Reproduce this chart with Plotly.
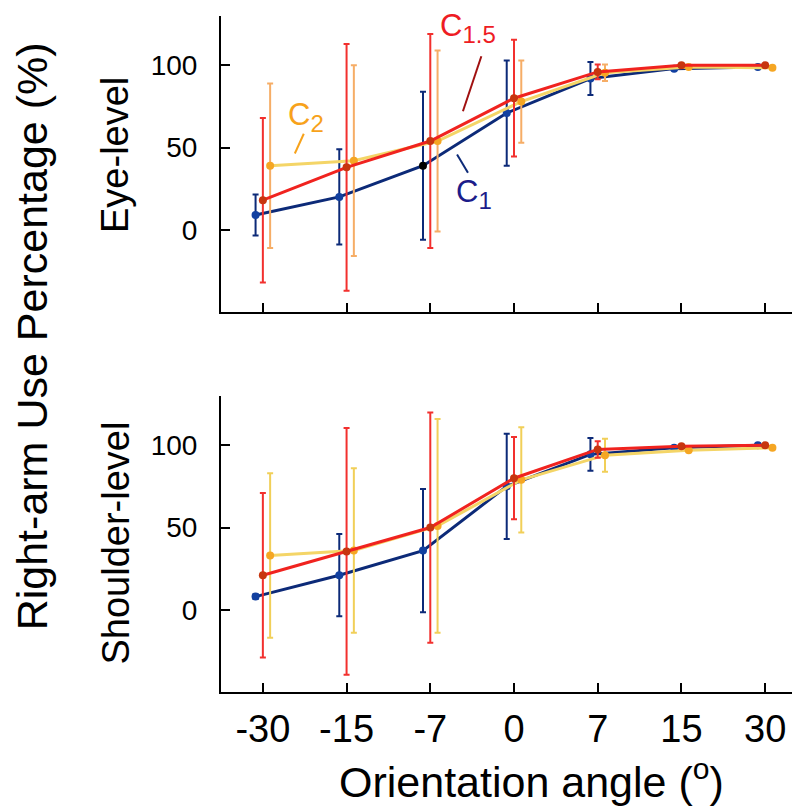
import plotly.graph_objects as go

# ---------------- data ----------------
angles = ["-30", "-15", "-7", "0", "7", "15", "30"]
series = ["C1", "C1.5", "C2"]

# Eye-level
eye_c1 = [9, 20, 39, 71, 92, 98, 99]
eye_c1_err = [12.5, 29, 45, 32, 10, 0, 0]
eye_c15 = [18, 38, 54, 80, 96, 100, 100]
eye_c15_err = [50, 75, 65, 35.5, 4.5, 0, 0]
eye_c2 = [39, 42, 54, 78, 95.5, 99, 98.5]
eye_c2_err = [50, 58, 55, 25, 5, 0, 0]

# Shoulder-level
sh_c1 = [8, 21, 36, 75, 94.5, 98.5, 100]
sh_c1_err = [1.5, 25, 37.5, 32, 10, 0, 0]
sh_c15 = [21, 35.5, 50, 80, 97.5, 99.5, 100]
sh_c15_err = [50, 75, 70, 25, 5, 0, 0]
sh_c2 = [33, 36, 51, 79, 94, 97, 98.5]
sh_c2_err = [50, 50, 65, 32, 10, 0, 0]

# ---------------- style ----------------
FONT = "Arial, Liberation Sans, sans-serif"
NAVY = "#0c2a78"
RED = "#f0231f"
YEL_LINE = "#f4d567"

styles = {
    "C1": dict(line=NAVY, marker="#1240a0", err_top=NAVY, err_bot=NAVY, dx=-0.087),
    "C1.5": dict(line=RED, marker="#c7350f", err_top="#f2302e", err_bot="#f2302e", dx=0.0),
    "C2": dict(line=YEL_LINE, marker="#f5a623", err_top="#f6ad66", err_bot="#f1cf58", dx=0.087),
}

fig = go.Figure()
idx = list(range(len(angles)))

panels = [
    ("x", "y", {"C1": (eye_c1, eye_c1_err), "C1.5": (eye_c15, eye_c15_err), "C2": (eye_c2, eye_c2_err)}, "err_top"),
    ("x2", "y2", {"C1": (sh_c1, sh_c1_err), "C1.5": (sh_c15, sh_c15_err), "C2": (sh_c2, sh_c2_err)}, "err_bot"),
]

for xa, ya, data, ekey in panels:
    for name in ["C1", "C2", "C1.5"]:
        vals, errs = data[name]
        st = styles[name]
        mcol = st["marker"]
        if name == "C1" and xa == "x":
            mcol = [st["marker"]] * len(idx)
            mcol[2] = "black"
        fig.add_trace(go.Scatter(
            x=[i + st["dx"] for i in idx], y=vals,
            xaxis=xa, yaxis=ya, mode="lines+markers",
            line=dict(color=st["line"], width=3),
            marker=dict(color=mcol, size=8),
            error_y=dict(type="data", array=errs, visible=True,
                         color=st[ekey], thickness=2, width=3),
            showlegend=False, name=name,
        ))

axis_common = dict(
    showline=True, linecolor="black", linewidth=2, ticks="inside",
    ticklen=9, tickwidth=1.5, tickcolor="black", showgrid=False, zeroline=False,
    automargin=False,
)

fig.update_layout(
    width=800, height=806,
    margin=dict(l=213, r=1, t=8, b=122),
    plot_bgcolor="white", paper_bgcolor="white",
    font=dict(family=FONT, color="black"),
    xaxis=dict(axis_common, domain=[0, 1], range=[-0.5, 6.5], tickvals=idx,
               showticklabels=False, anchor="y"),
    yaxis=dict(axis_common, domain=[0.5621, 1], range=[-50, 130], tickvals=[0, 50, 100],
               tickfont=dict(size=28), ticklabelstandoff=16, anchor="x"),
    xaxis2=dict(axis_common, domain=[0, 1], range=[-0.5, 6.5], tickvals=idx,
                ticktext=angles, tickfont=dict(size=38), ticklabelstandoff=2, anchor="y2"),
    yaxis2=dict(axis_common, domain=[0, 0.4379], range=[-50, 130], tickvals=[0, 50, 100],
                tickfont=dict(size=28), ticklabelstandoff=16, anchor="x2"),
)

# titles
fig.add_annotation(text="Eye-level", xref="paper", yref="paper", x=-0.18, y=0.7937,
                   textangle=-90, showarrow=False, font=dict(size=38),
                   xanchor="center", yanchor="middle")
fig.add_annotation(text="Shoulder-level", xref="paper", yref="paper", x=-0.18, y=0.2204,
                   textangle=-90, showarrow=False, font=dict(size=38),
                   xanchor="center", yanchor="middle")
fig.add_annotation(text="Right-arm Use Percentage (%)", xref="paper", yref="paper",
                   x=-0.321, y=0.526, textangle=-90, showarrow=False, font=dict(size=43),
                   xanchor="center", yanchor="middle")
fig.add_annotation(text="Orientation angle (<sup>o</sup>)", xref="paper", yref="paper",
                   x=0.53, y=-0.128, showarrow=False, font=dict(size=43),
                   xanchor="center", yanchor="middle")

# series labels with leader lines (top panel)
fig.add_annotation(text="C<sub><span style='font-size:24px'>1.5</span></sub>", xref="x", yref="y",
                   x=2.45, y=122.6, showarrow=False, font=dict(size=31, color="#ee1c24"),
                   xanchor="center", yanchor="middle")
fig.add_annotation(text="C<sub><span style='font-size:24px'>2</span></sub>", xref="x", yref="y",
                   x=0.51, y=68.7, showarrow=False, font=dict(size=31, color="#f7a21b"),
                   xanchor="center", yanchor="middle")
fig.add_annotation(text="C<sub><span style='font-size:24px'>1</span></sub>", xref="x", yref="y",
                   x=2.52, y=22, showarrow=False, font=dict(size=31, color="#1c1c8a"),
                   xanchor="center", yanchor="middle")

fig.add_shape(type="line", xref="x", yref="y", x0=2.61, y0=105.5, x1=2.39, y1=72.1,
              line=dict(color="#a01010", width=2))
fig.add_shape(type="line", xref="x", yref="y", x0=2.32, y0=45.8, x1=2.45, y1=34.7,
              line=dict(color=NAVY, width=2))
fig.add_shape(type="line", xref="x", yref="y", x0=0.489, y0=58.4, x1=0.382, y1=46.4,
              line=dict(color="#f7a21b", width=2))

fig.write_html("out.html")
